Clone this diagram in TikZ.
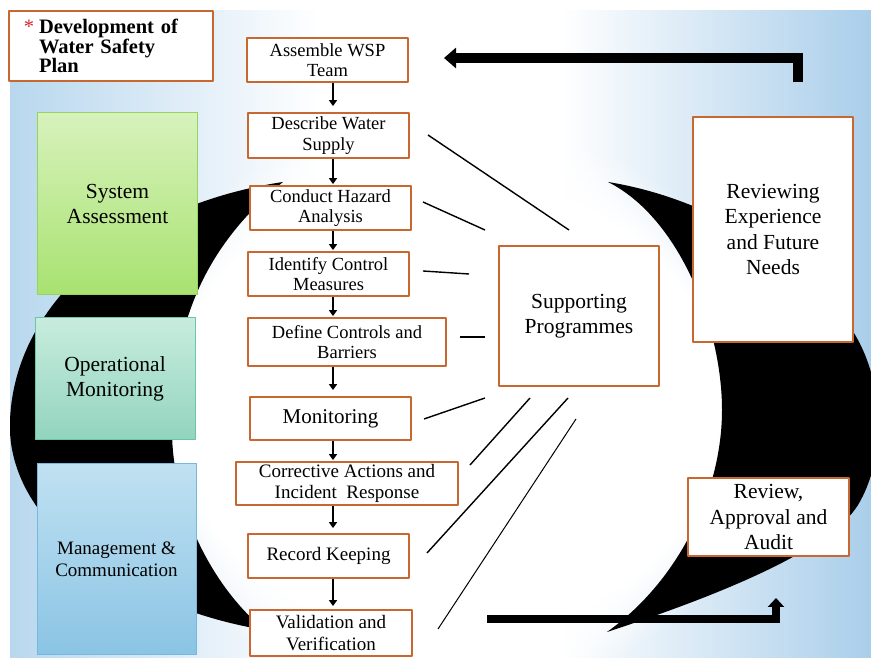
\documentclass[tikz,border=0pt]{standalone}
\usepackage{fontspec}
\setmainfont{Liberation Serif}
\usetikzlibrary{arrows.meta,fadings}

\definecolor{boxorange}{RGB}{200,104,48}
\definecolor{skyedge}{RGB}{184,215,238}
\definecolor{skydeep}{RGB}{170,206,234}
\definecolor{greentop}{RGB}{215,242,188}
\definecolor{greenbot}{RGB}{168,226,112}
\definecolor{greenedge}{RGB}{150,212,95}
\definecolor{tealtop}{RGB}{200,236,222}
\definecolor{tealbot}{RGB}{146,212,190}
\definecolor{tealedge}{RGB}{105,198,168}
\definecolor{bluetop}{RGB}{192,225,242}
\definecolor{bluebot}{RGB}{138,196,228}
\definecolor{blueedge}{RGB}{118,184,224}
\definecolor{starred}{RGB}{214,40,40}

\tikzset{
  stepbox/.style={draw=boxorange, line width=1.8bp, fill=white, align=center, inner sep=1bp,
    minimum width=161bp, minimum height=44bp, font=\fontsize{18.5bp}{20.5bp}\selectfont},
  bigbox/.style={stepbox, minimum width=160bp, font=\fontsize{21.5bp}{25.5bp}\selectfont},
  phasebox/.style={line width=1bp, align=center, minimum width=160bp,
    font=\fontsize{21.5bp}{24.5bp}\selectfont},
  flowarrow/.style={-{Triangle[length=6bp,width=8bp]}, line width=2.8bp, shorten >=1bp},
  spoke/.style={line width=1.4bp},
  loopback/.style={line width=10bp, -{Triangle[length=12bp,width=20bp]}, line join=miter},
  loopfwd/.style={line width=8bp, -{Triangle[length=9bp,width=16bp]}, line join=miter},
}

\begin{document}
\begin{tikzpicture}[>=latex, line join=bevel]
\useasboundingbox (0bp,0bp) rectangle (871bp,658bp);
%% backdrop and the two black swooshes
\begin{scope}
  \clip (10bp,0bp) rectangle (871bp,647bp);
  \shade[left color=skyedge, right color=white] (10bp,0bp) rectangle (320bp,647bp);
  \fill[white] (319bp,0bp) rectangle (561bp,647bp);
  \shade[left color=white, right color=skydeep] (560bp,0bp) rectangle (871bp,647bp);
  \fill[white, path fading=circle with fuzzy edge 20 percent] (447bp,251bp) ellipse (340bp and 290bp);
  % left swoosh
  \fill (283bp,476bp) .. controls (130bp,453bp) and (15bp,358bp) .. (10bp,238bp)
    .. controls (5bp,128bp) and (140bp,48bp) .. (265bp,28bp)
    .. controls (215bp,68bp) and (172bp,148bp) .. (172bp,228bp)
    .. controls (172bp,328bp) and (200bp,408bp) .. (283bp,476bp) -- cycle;
  % right swoosh
  \fill (608bp,476bp) .. controls (720bp,458bp) and (820bp,388bp) .. (858bp,318bp)
    .. controls (885bp,268bp) and (885bp,198bp) .. (858bp,153bp)
    .. controls (830bp,108bp) and (720bp,63bp) .. (607bp,26bp)
    .. controls (680bp,78bp) and (722bp,168bp) .. (722bp,248bp)
    .. controls (722bp,330bp) and (680bp,440bp) .. (608bp,476bp) -- cycle;
\end{scope}
%
% Node: title
\node[draw=boxorange, line width=1.8bp, fill=white, minimum width=204bp, minimum height=70bp,
  text width=144bp, inner xsep=30bp, align=left,
  font=\fontsize{20.5bp}{19.5bp}\selectfont\bfseries] (title) at (111bp,612bp)
  {\llap{\textcolor{starred}{\mdseries *}\hspace{5bp}}Development of\\Water Safety\\Plan};
% Node: phases
\node[phasebox, draw=greenedge, top color=greentop, bottom color=greenbot, minimum height=182bp]
  (system) at (117.5bp,454bp) {System\\Assessment};
\node[phasebox, draw=tealedge, top color=tealtop, bottom color=tealbot, minimum height=122bp]
  (operational) at (115bp,279bp) {Operational\\Monitoring};
\node[phasebox, draw=blueedge, top color=bluetop, bottom color=bluebot, minimum width=159bp,
  minimum height=191bp, font=\fontsize{19bp}{22bp}\selectfont]
  (management) at (116.5bp,98.5bp) {Management \&\\Communication};
% Node: steps
\node[stepbox] (assemble) at (327.5bp,598bp) {Assemble WSP\\Team};
\node[stepbox, minimum height=45bp] (describe) at (328.5bp,522.5bp) {Describe Water\\Supply};
\node[stepbox] (hazard) at (330.5bp,450bp) {Conduct Hazard\\Analysis};
\node[stepbox] (identify) at (328.5bp,384bp) {Identify Control\\Measures};
\node[stepbox, minimum width=198bp, minimum height=48bp] (define) at (347bp,316bp) {Define Controls and\\Barriers};
\node[stepbox, minimum height=43bp, font=\fontsize{21bp}{24bp}\selectfont] (monitoring) at (330.5bp,239.5bp) {Monitoring};
\node[stepbox, minimum width=222bp, minimum height=43bp, font=\fontsize{19bp}{21bp}\selectfont]
  (corrective) at (347bp,174.5bp) {Corrective Actions and\\Incident\ \ Response};
\node[stepbox, font=\fontsize{19bp}{21bp}\selectfont] (record) at (328.5bp,102bp) {Record Keeping};
\node[stepbox, minimum width=162bp, minimum height=46bp, font=\fontsize{19bp}{21.5bp}\selectfont]
  (validation) at (331bp,25bp) {Validation and\\Verification};
% Node: right hand side
\node[bigbox, minimum height=140bp] (support) at (579bp,342bp) {Supporting\\Programmes};
\node[bigbox, minimum height=225bp] (reviewing) at (773bp,428.5bp) {Reviewing\\Experience\\and Future\\Needs};
\node[bigbox, minimum width=161bp, minimum height=78bp] (audit) at (768.5bp,141bp) {Review,\\Approval and\\Audit};
%
% Edge: step -> step
\coordinate (spine) at (333bp,0bp);
\draw[flowarrow, shorten >=6bp] (assemble.south -| spine) -- (describe.north -| spine);
\draw[flowarrow] (describe.south -| spine) -- (hazard.north -| spine);
\draw[flowarrow] (hazard.south -| spine) -- (identify.north -| spine);
\draw[flowarrow] (identify.south -| spine) -- (define.north -| spine);
\draw[flowarrow, shorten >=6bp] (define.south -| spine) -- (monitoring.north -| spine);
\draw[flowarrow] (monitoring.south -| spine) -- (corrective.north -| spine);
\draw[flowarrow, shorten >=5bp] (corrective.south -| spine) -- (record.north -| spine);
\draw[flowarrow, shorten >=3bp] (record.south -| spine) -- (validation.north -| spine);
%
% Edge: step -- support (loose strokes)
\coordinate (describe-sp) at (428bp,523bp);  \coordinate (sp-describe) at (569bp,428bp);
\coordinate (hazard-sp) at (423bp,456bp);    \coordinate (sp-hazard) at (485bp,428bp);
\coordinate (identify-sp) at (423bp,387bp);  \coordinate (sp-identify) at (469bp,384bp);
\coordinate (define-sp) at (460bp,321bp);    \coordinate (sp-define) at (485bp,321bp);
\coordinate (monitor-sp) at (424bp,239bp);   \coordinate (sp-monitor) at (485bp,260bp);
\coordinate (correct-sp) at (470bp,193bp);   \coordinate (sp-correct) at (530bp,260bp);
\coordinate (record-sp) at (427bp,105bp);    \coordinate (sp-record) at (568bp,260bp);
\coordinate (valid-sp) at (438bp,29bp);      \coordinate (sp-valid) at (576bp,239bp);
\draw[spoke] (describe-sp) -- (sp-describe);
\draw[spoke] (hazard-sp) -- (sp-hazard);
\draw[spoke] (identify-sp) -- (sp-identify);
\draw[spoke] (define-sp) -- (sp-define);
\draw[spoke] (monitor-sp) -- (sp-monitor);
\draw[spoke] (correct-sp) -- (sp-correct);
\draw[spoke] (record-sp) -- (sp-record);
\draw[spoke, line width=1bp] (valid-sp) -- (sp-valid);
%
% Edge: reviewing -> assemble, record -> audit
\coordinate (backtail) at (798bp,576bp);
\coordinate (backtip) at (444bp,600bp);
\draw[loopback] (backtail) |- (backtip);
\coordinate (fwdtail) at (487bp,39bp);
\coordinate (fwdtip) at (776bp,60bp);
\draw[loopfwd] (fwdtail) -| (fwdtip);
%
\end{tikzpicture}
\end{document}
